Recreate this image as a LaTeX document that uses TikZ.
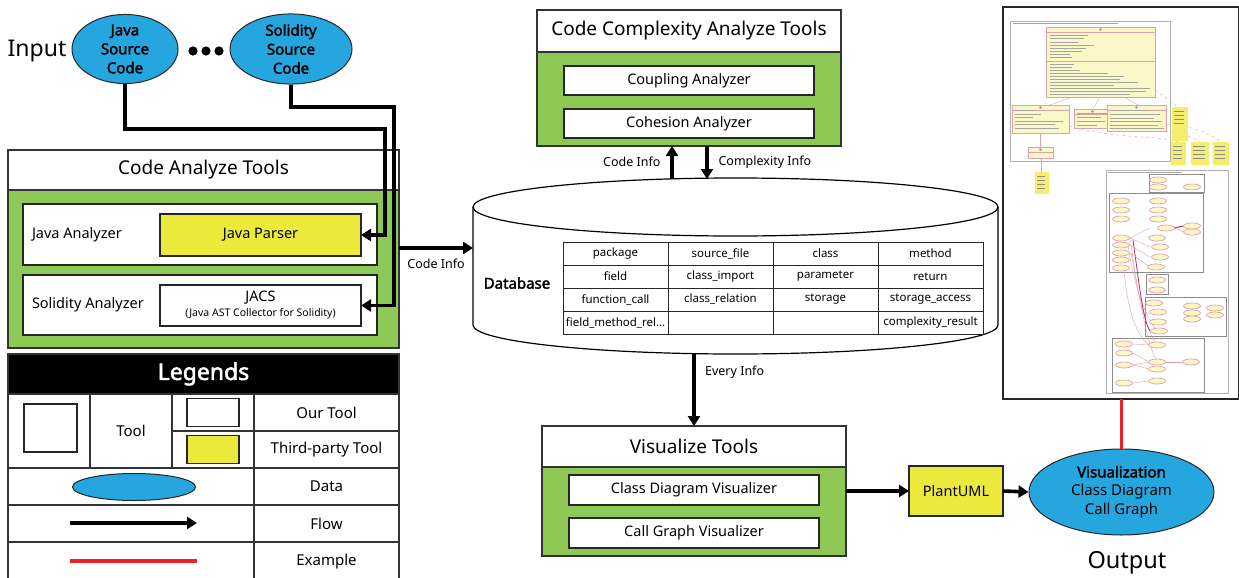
\documentclass[tikz,border=0pt]{standalone}
\usepackage{fontspec}
\setmainfont{Noto Sans}[AutoFakeBold=2.2]
\setsansfont{Noto Sans}[AutoFakeBold=2.2]
\usepackage{tikz}
\usetikzlibrary{positioning,arrows.meta,calc,shapes.geometric}
\definecolor{toolgreen}{HTML}{8FC955}
\definecolor{datablue}{HTML}{26A6DE}
\definecolor{thirdyellow}{HTML}{ECE93D}
\definecolor{exred}{HTML}{EE2224}
\definecolor{umlfill}{HTML}{FBF7C6}
\definecolor{umlnote}{HTML}{F3EF6C}
\definecolor{umlline}{HTML}{E0A0AE}
\definecolor{umlarrow}{HTML}{B8305E}

\begin{document}
\begin{tikzpicture}[
  x=1pt, y=-1pt,
  font=\sffamily,
  hdr/.style={draw=black!80, fill=white, line width=1.2pt, anchor=north west, outer sep=0pt, font=\fontsize{19}{22}\selectfont},
  body/.style={draw=black!80, fill=toolgreen, line width=1.2pt, anchor=north west, outer sep=0pt},
  ourtool/.style={draw=black!85, fill=white, line width=1.2pt, outer sep=0pt, inner sep=0pt, font=\fontsize{14.5}{17}\selectfont},
  thirdtool/.style={ourtool, fill=thirdyellow},
  datum/.style={ellipse, draw=black!85, fill=datablue, line width=1pt, inner sep=0pt, align=center},
  flow/.style={-{Triangle[length=10pt, width=12pt]}, line width=3.6pt, draw=black},
  ex/.style={line width=3.6pt, draw=exred},
  lcell/.style={draw=black!80, line width=1.6pt, anchor=north west, outer sep=0pt, inner sep=0pt, font=\fontsize{15}{18}\selectfont},
  tcell/.style={draw=black!85, line width=0.9pt, minimum width=105, minimum height=23, anchor=north west, outer sep=0pt, inner sep=0pt, font=\fontsize{11.5}{13}\selectfont},
  lbl/.style={font=\fontsize{12.5}{15}\selectfont},
  umlbox/.style={draw=umlline, fill=umlfill, line width=0.7pt},
  umltext/.style={draw=black!35, line width=0.45pt},
  umlpkg/.style={draw=black!45, line width=0.8pt}
]
\useasboundingbox (0,0) rectangle (1239,578);
\fill[white] (0,0) rectangle (1239,578);

% ---------- input ----------
\node[font=\fontsize{23}{26}\selectfont] (inp) at (37,51) {Input};
\node[datum, minimum width=106, minimum height=64, font=\bfseries\fontsize{15}{19}\selectfont] (javasrc) at (125,49) {Java\\Source\\Code};
\node[datum, minimum width=122, minimum height=64, font=\bfseries\fontsize{15}{19}\selectfont] (solsrc) at (291,49) {Solidity\\Source\\Code};
\foreach \dx in {193,206,219} \fill (\dx,51) circle (4.6);

% ---------- code analyze tools ----------
\node[hdr, minimum width=391, minimum height=40] (cahdr) at (8,150) {Code Analyze Tools};
\node[body, minimum width=391, minimum height=158] (cabody) at (8,190) {};
\node[ourtool, anchor=north west, minimum width=354, minimum height=61] (javaan) at (23,204) {};
\node[ourtool, draw=none, fill=none, anchor=west] (javaanlbl) at (32,235) {Java Analyzer};
\node[thirdtool, anchor=north west, minimum width=201, minimum height=42] (jparser) at (160,214) {Java Parser};
\node[ourtool, anchor=north west, minimum width=354, minimum height=60] (solan) at (23,275) {};
\node[ourtool, draw=none, fill=none, anchor=west] (solanlbl) at (32,305) {Solidity Analyzer};
\node[ourtool, anchor=north west, minimum width=201, minimum height=41, align=center] (jacs) at (160,285) {JACS\\[-2pt]{\fontsize{10.5}{12}\selectfont (Java AST Collector for Solidity)}};

% ---------- legends ----------
\node[lcell, fill=black, text=white, font=\bfseries\fontsize{23}{26}\selectfont, minimum width=391, minimum height=40] (lghead) at (8,354) {Legends};
\node[lcell, minimum width=82, minimum height=74] (lgtoolicon) at (8,394) {};
\node[lcell, minimum width=82, minimum height=74] (lgtool) at (90,394) {Tool};
\node[lcell, minimum width=82, minimum height=37] (lgouricon) at (172,394) {};
\node[lcell, minimum width=82, minimum height=37] (lgthirdicon) at (172,431) {};
\node[lcell, minimum width=145, minimum height=37] (lgour) at (254,394) {Our Tool};
\node[lcell, minimum width=145, minimum height=37] (lgthird) at (254,431) {Third-party Tool};
\node[lcell, minimum width=246, minimum height=37] (lgdataicon) at (8,468) {};
\node[lcell, minimum width=145, minimum height=37] (lgdata) at (254,468) {Data};
\node[lcell, minimum width=246, minimum height=37] (lgflowicon) at (8,505) {};
\node[lcell, minimum width=145, minimum height=37] (lgflow) at (254,505) {Flow};
\node[lcell, minimum width=246, minimum height=40] (lgexicon) at (8,542) {};
\node[lcell, minimum width=145, minimum height=40] (lgex) at (254,542) {Example};
\node[ourtool, minimum width=53, minimum height=48] (icsquare) at (50.5,428) {};
\node[ourtool, minimum width=52, minimum height=28] (icour) at (lgouricon.center) {};
\node[thirdtool, minimum width=52, minimum height=28] (icthird) at (lgthirdicon.center) {};
\node[datum, minimum width=123, minimum height=27] (icdata) at (134,487) {};
\coordinate (icflowa) at (70,523);
\coordinate (icflowb) at (197,523);
\coordinate (icexa) at (70,561);
\coordinate (icexb) at (197,561);
\draw[flow] (icflowa) -- (icflowb);
\draw[ex] (icexa) -- (icexb);

% ---------- database ----------
\draw[line width=1.2pt, fill=white] (473,207) -- (473,325) arc[start angle=180, end angle=0, x radius=262.5, y radius=29] -- (998,207);
\draw[line width=1.2pt] (735.5,207) ellipse [x radius=262.5, y radius=29];
\node[font=\bfseries\fontsize{15}{18}\selectfont] (dbname) at (517,283) {Database};
\foreach \row/\ca/\cb/\cc/\cd in {
  0/package/source\_file/class/method,
  1/field/class\_import/parameter/return,
  2/function\_call/class\_relation/storage/storage\_access,
  3/{field\_method\_rel\ldots}/{}/{}/complexity\_result}
{
  \node[tcell] (tab-\row-0) at (563,242+23*\row) {\ca};
  \node[tcell] (tab-\row-1) at (668,242+23*\row) {\cb};
  \node[tcell] (tab-\row-2) at (773,242+23*\row) {\cc};
  \node[tcell] (tab-\row-3) at (878,242+23*\row) {\cd};
}
\coordinate (dbleft) at (473,248);
\coordinate (dbup) at (672,179);
\coordinate (dbdown) at (707,179);
\coordinate (dbbottom) at (694,354);

% ---------- code complexity analyze tools ----------
\node[hdr, minimum width=304, minimum height=42] (cxhdr) at (537,10) {Code Complexity Analyze Tools};
\node[body, minimum width=304, minimum height=94] (cxbody) at (537,52) {};
\node[ourtool, anchor=north west, minimum width=250, minimum height=29] (coupling) at (564,66) {Coupling Analyzer};
\node[ourtool, anchor=north west, minimum width=250, minimum height=29] (cohesion) at (564,109) {Cohesion Analyzer};

% ---------- visualize tools ----------
\node[hdr, minimum width=304, minimum height=41] (vishdr) at (542,426) {Visualize Tools};
\node[body, minimum width=304, minimum height=89] (visbody) at (542,467) {};
\node[ourtool, anchor=north west, minimum width=250, minimum height=30] (cdvis) at (569,475) {Class Diagram Visualizer};
\node[ourtool, anchor=north west, minimum width=250, minimum height=30] (cgvis) at (569,518) {Call Graph Visualizer};
\node[thirdtool, anchor=north west, minimum width=94, minimum height=50] (plantuml) at (909,466) {PlantUML};
\node[datum, minimum width=185, minimum height=86, font=\fontsize{15}{18.5}\selectfont] (visual) at (1121.5,492) {\textbf{Visualization}\\Class Diagram\\Call Graph};
\node[font=\fontsize{23.5}{26}\selectfont] (outlbl) at (1127,563) {Output};

% ---------- output screenshot ----------
\node[draw=black!85, line width=1.6pt, fill=white, minimum width=236, minimum height=392, anchor=north west, outer sep=0pt] (outshot) at (1003,7) {};
% class diagram
\draw[umlpkg, draw=black!30] (1010,21) rectangle (1170,161);
\draw[umltext] (1013,23.5) -- (1118,23.5);
\draw[umlline] (1072,97) -- (1050,105);
\draw[umlline] (1100,97) -- (1093,109);
\draw[umlline] (1124,97) -- (1138,105);
\draw[umlline] (1040,133) -- (1040,147);
\draw[umlline, dashed] (1155,90) -- (1178,107);
\draw[umlline, dashed] (1069,126) .. controls (1120,140) and (1160,135) .. (1178,142);
\draw[umlline, dashed] (1111,126) .. controls (1150,128) and (1190,133) .. (1200,142);
\draw[umlline, dashed] (1166,124) .. controls (1190,126) and (1210,132) .. (1220,142);
\draw[orange!70, line width=1pt] (1041,158) -- (1041,172);
\foreach \xa/\ya/\xb/\yb in {1046/27/1155/97, 1012/105/1069/133, 1074/109/1111/128, 1107/105/1166/131, 1028/147/1053/158}
{
  \draw[umlbox] (\xa,\ya) rectangle (\xb,\yb);
  \draw[umlline] (\xa,\ya+5) -- (\xb,\ya+5);
  \fill[black!40] ({(\xa+\xb)/2},\ya+2.5) circle (1.3);
}
\draw[umlline] (1046,61) -- (1155,61);
\foreach \yy/\ll in {35/38,38/34,42/28,45/44,48/36,51/32,54/20,57/22,64/24,67/22,70/30,73/58,76/74,79/70,82/88,85/64,88/100,91/96,94/80}
  \draw[umltext] (1050,\yy) -- ++(\ll,0);
\foreach \yy/\ll in {110/20,114/26,117/18,121/48,124/40,128/44}
  \draw[umltext] (1015,\yy) -- ++(\ll,0);
\foreach \yy/\ll in {113/30,117/24,121/28,125/20}
  \draw[umltext] (1077,\yy) -- ++(\ll,0);
\foreach \yy/\ll in {110/40,114/50,118/44,121/52,125/48,128/54}
  \draw[umltext] (1110,\yy) -- ++(\ll,0);
\foreach \xa/\ya/\xb/\yb in {1172/107/1188/141, 1171/142/1186/165, 1191/142/1209/165, 1213/142/1229/165, 1035/172/1049/194}
{
  \fill[umlnote] (\xa,\ya) rectangle (\xb,\yb);
  \foreach \k in {4,8,12,16} \draw[umltext, draw=black!45] (\xa+2,\ya+\k) -- (\xb-4,\ya+\k);
}
% call graph
\draw[umlpkg, draw=black!30] (1106,170) rectangle (1228,393);
\draw[umltext] (1108,172) -- (1182,172);
\foreach \xa/\ya/\xb/\yb in {1149/174/1204/192, 1109/193/1203/272, 1146/274/1168/294, 1145/297/1226/336, 1112/338/1204/392}
  \draw[umlpkg] (\xa,\ya) rectangle (\xb,\yb);
\draw[umlline] (1130,238) .. controls (1138,300) and (1146,330) .. (1157,345);
\draw[umlline] (1128,245) .. controls (1134,290) and (1148,320) .. (1157,331);
\draw[umlline] (1124,268) .. controls (1128,320) and (1140,340) .. (1152,347);
\draw[umlline] (1131,253) .. controls (1140,300) and (1146,340) .. (1157,362);
\draw[umlarrow, line width=0.8pt] (1133,240) .. controls (1140,290) and (1143,320) .. (1150,331);
\draw[umlline] (1130,238) -- (1150,228);
\draw[umlline] (1130,238) -- (1150,247);
\draw[umlline] (1130,245) -- (1150,257);
\draw[umlline] (1130,253) -- (1150,267);
\draw[umlarrow, line width=1pt] (1174,228) -- (1184,226);
\draw[umlline] (1174,228) -- (1184,232);
\draw[umlline] (1133,344) -- (1149,345);
\draw[umlline] (1133,353) -- (1149,362);
\draw[umlline] (1133,365) -- (1149,362);
\draw[umlline] (1133,365) -- (1149,369);
\draw[umlline] (1133,383) -- (1149,381);
\draw[umlline] (1165,362) -- (1183,362);
\foreach \ex/\ey in {1158/180,1158/187,1192/187,
  1121/201,1121/210,1121/219,1158/201,1158/210,1158/219,1166/228,1192/226,1192/232,1121/238,1157/238,1121/245,1160/247,1121/253,1160/257,1121/260,1121/268,1156/267,
  1157/280,1157/290,
  1154/303,1158/312,1158/322,1192/306,1192/313,1192/319,1215/308,1215/315,1159/331,
  1124/344,1124/353,1124/365,1157/345,1157/362,1157/369,1191/362,1124/383,1157/381}
  \draw[umlbox] (\ex,\ey) ellipse [x radius=8.5, y radius=3];

% ---------- connectors ----------
\coordinate (jbend) at (385,129);
\coordinate (sbend) at (394,107);
\draw[flow] (javasrc.south) |- (jbend) |- (jparser.east);
\draw[flow] (solsrc.south) |- (sbend) |- (jacs.east);
\draw[flow] (cabody.east |- dbleft) -- (dbleft) node[midway, below=6pt, lbl] (codeinfo) {Code Info};
\draw[flow] (dbup) -- (cxbody.south -| dbup);
\draw[flow] (cxbody.south -| dbdown) -- (dbdown);
\node[lbl, anchor=east] (cxin) at (664,162) {Code Info};
\node[lbl, anchor=west] (cxout) at (715,162) {Complexity Info};
\draw[flow] (dbbottom) -- (vishdr.north -| dbbottom) node[pos=0.25, right=6pt, lbl] (everyinfo) {Every Info};
\draw[flow] (visbody.east |- plantuml.west) -- (plantuml.west);
\draw[flow] (plantuml.east) -- (visual.west);
\draw[ex] (visual.north) -- (outshot.south -| visual.north);
\end{tikzpicture}
\end{document}
